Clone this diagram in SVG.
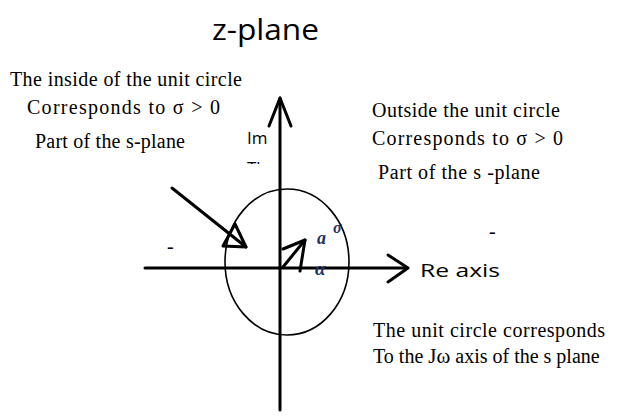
<svg xmlns="http://www.w3.org/2000/svg" width="619" height="416" viewBox="0 0 619 416">
<defs>
<style>
.serif{font-family:"Liberation Serif","Times New Roman",serif;font-size:20px;fill:#000}
.sans{font-family:"Open Sans","Liberation Sans",sans-serif;fill:#000}
.ax{stroke:#000;stroke-width:3;fill:none;stroke-linecap:round;stroke-linejoin:round}
.thin{stroke:#000;stroke-width:1.6;fill:none}
.sym{font-family:"Liberation Serif",serif;font-style:italic;font-weight:bold;fill:#24305e}
</style>
<clipPath id="cutTh"><rect x="240" y="157" width="30" height="7"/></clipPath>
</defs>
<rect width="619" height="416" fill="#fff"/>
<text class="sans" x="212" y="40" font-size="30" textLength="107" lengthAdjust="spacingAndGlyphs">z-plane</text>

<g id="unit-circle">
<ellipse class="thin" cx="287" cy="262" rx="62" ry="73"/>
</g>

<g id="connectors">
<line class="ax" x1="280" y1="410" x2="280" y2="98"/>
<polyline class="ax" points="269,126 280,98 291,126"/>
<line class="ax" x1="145" y1="268" x2="407" y2="268"/>
<polyline class="ax" points="388,255 408,268 388,282"/>
<line class="ax" x1="172" y1="188" x2="246" y2="247"/>
<polygon class="ax" points="246,247 223,246 235,224" fill="#fff"/>
<line class="ax" x1="283" y1="267" x2="305" y2="240"/>
<polyline class="ax" points="283,249 305,240 300,271"/>
</g>

<g id="labels-left">
<text class="serif" x="10" y="86" textLength="232" lengthAdjust="spacing">The inside of the unit circle</text>
<text class="serif" x="27" y="114" textLength="193" lengthAdjust="spacing">Corresponds to σ &gt; 0</text>
<text class="serif" x="35" y="148" textLength="150" lengthAdjust="spacing">Part of the s-plane</text>
</g>

<g id="labels-axis">
<text class="sans" x="247" y="144" font-size="17">Im</text>
<text class="sans" x="247" y="174" font-size="17" clip-path="url(#cutTh)">Th</text>
<text class="sans" x="420" y="277" font-size="19" textLength="80" lengthAdjust="spacingAndGlyphs">Re axis</text>
<text class="serif" x="167" y="253">-</text>
<text class="serif" x="489" y="238">-</text>
<text class="sym" x="317" y="244" font-size="18">a</text>
<text class="sym" x="333" y="233" font-size="16">σ</text>
<text class="sym" x="315" y="275" font-size="19">α</text>
</g>

<g id="labels-right">
<text class="serif" x="372" y="117" textLength="188" lengthAdjust="spacing">Outside the unit circle</text>
<text class="serif" x="372" y="145" textLength="191" lengthAdjust="spacing">Corresponds to  σ &gt; 0</text>
<text class="serif" x="378" y="179" textLength="162" lengthAdjust="spacing">Part of the s -plane</text>
<text class="serif" x="373" y="337" textLength="232" lengthAdjust="spacing">The unit circle corresponds</text>
<text class="serif" x="373" y="363">To the <tspan font-size="21">Jω</tspan> axis of the s plane</text>
</g>
</svg>
